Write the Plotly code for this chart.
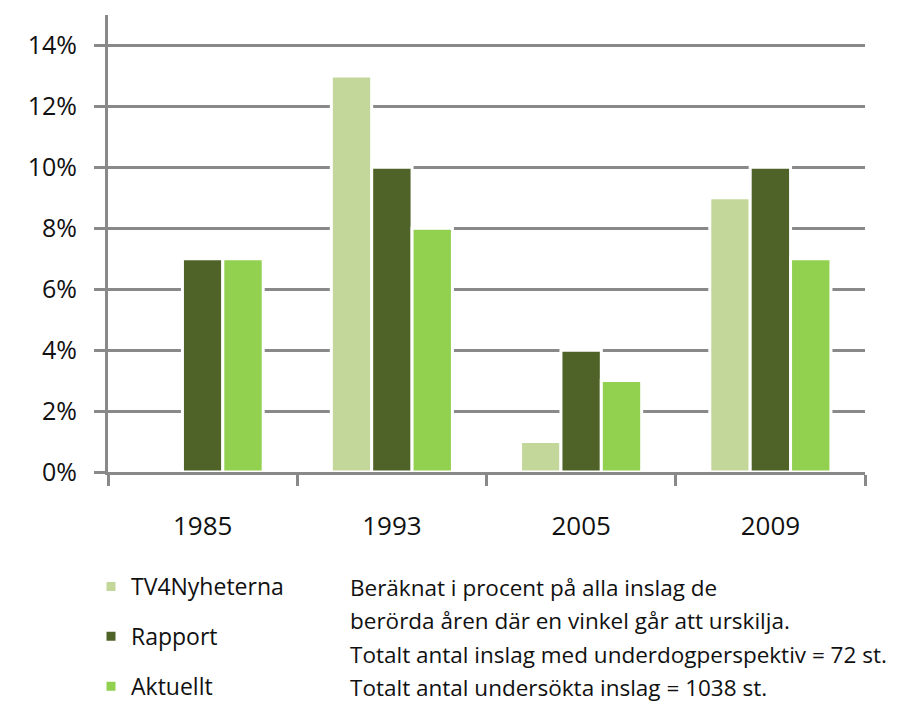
import plotly.graph_objects as go

years = ["1985", "1993", "2005", "2009"]
tv4 = [None, 13, 1, 9]
rapport = [7, 10, 4, 10]
aktuellt = [7, 8, 3, 7]
series_names = ["TV4Nyheterna", "Rapport", "Aktuellt"]
colors = ["#C4D79B", "#4F6228", "#92D050"]
y_ticks = [0, 2, 4, 6, 8, 10, 12, 14]
y_tick_labels = ["0%", "2%", "4%", "6%", "8%", "10%", "12%", "14%"]
notes = [
    "Beräknat i procent på alla inslag de",
    "berörda åren där en vinkel går att urskilja.",
    "Totalt antal inslag med underdogperspektiv = 72 st.",
    "Totalt antal undersökta inslag = 1038 st.",
]

FONT = "Open Sans"
GRAY = "#898989"

# page body has an 8px margin, so the figure is drawn 8px smaller
W, H = 892, 694
L, R, T, B = 100, 35, 7, 230
PW, PH = W - L - R, H - T - B

fig = go.Figure()
for i, (name, vals) in enumerate(zip(series_names, [tv4, rapport, aktuellt])):
    fig.add_trace(go.Bar(
        x=years, y=vals, name=name, legendgroup=name,
        marker=dict(color=colors[i], line=dict(color="white", width=3)),
    ))

fig.update_layout(
    width=W, height=H,
    paper_bgcolor="white", plot_bgcolor="white",
    margin=dict(l=L, r=R, t=T, b=B, autoexpand=False),
    barmode="group", bargap=0.36, bargroupgap=0,
    font=dict(family=FONT, color="#111111"),
    showlegend=True,
    legend=dict(
        x=-17 / PW, xanchor="left", y=-93 / PH, yanchor="top",
        font=dict(size=23, family=FONT), tracegroupgap=17,
        bgcolor="rgba(0,0,0,0)",
    ),
)
fig.update_xaxes(
    type="category", showline=True, linecolor=GRAY, linewidth=3,
    ticks="outside", tickson="boundaries", ticklen=11, tickwidth=3, tickcolor=GRAY,
    tickfont=dict(size=26, family=FONT), ticklabelstandoff=29,
    showgrid=False, automargin=False,
)
fig.update_yaxes(
    range=[0, 15], tickvals=y_ticks, ticktext=y_tick_labels,
    showline=True, linecolor=GRAY, linewidth=3,
    ticks="outside", ticklen=11, tickwidth=3, tickcolor=GRAY,
    showgrid=True, gridcolor=GRAY, gridwidth=3, zeroline=False,
    tickfont=dict(size=25, family=FONT), ticklabelstandoff=12, automargin=False,
)

for k, line in enumerate(notes):
    fig.add_annotation(
        xref="paper", yref="paper", x=(340 - L) / PW, xanchor="left",
        y=(H - B - (579 + 33.5 * k)) / PH, yanchor="middle",
        text=line, showarrow=False, font=dict(size=22.5, family=FONT, color="#111111"),
    )

fig.write_html("out.html")
